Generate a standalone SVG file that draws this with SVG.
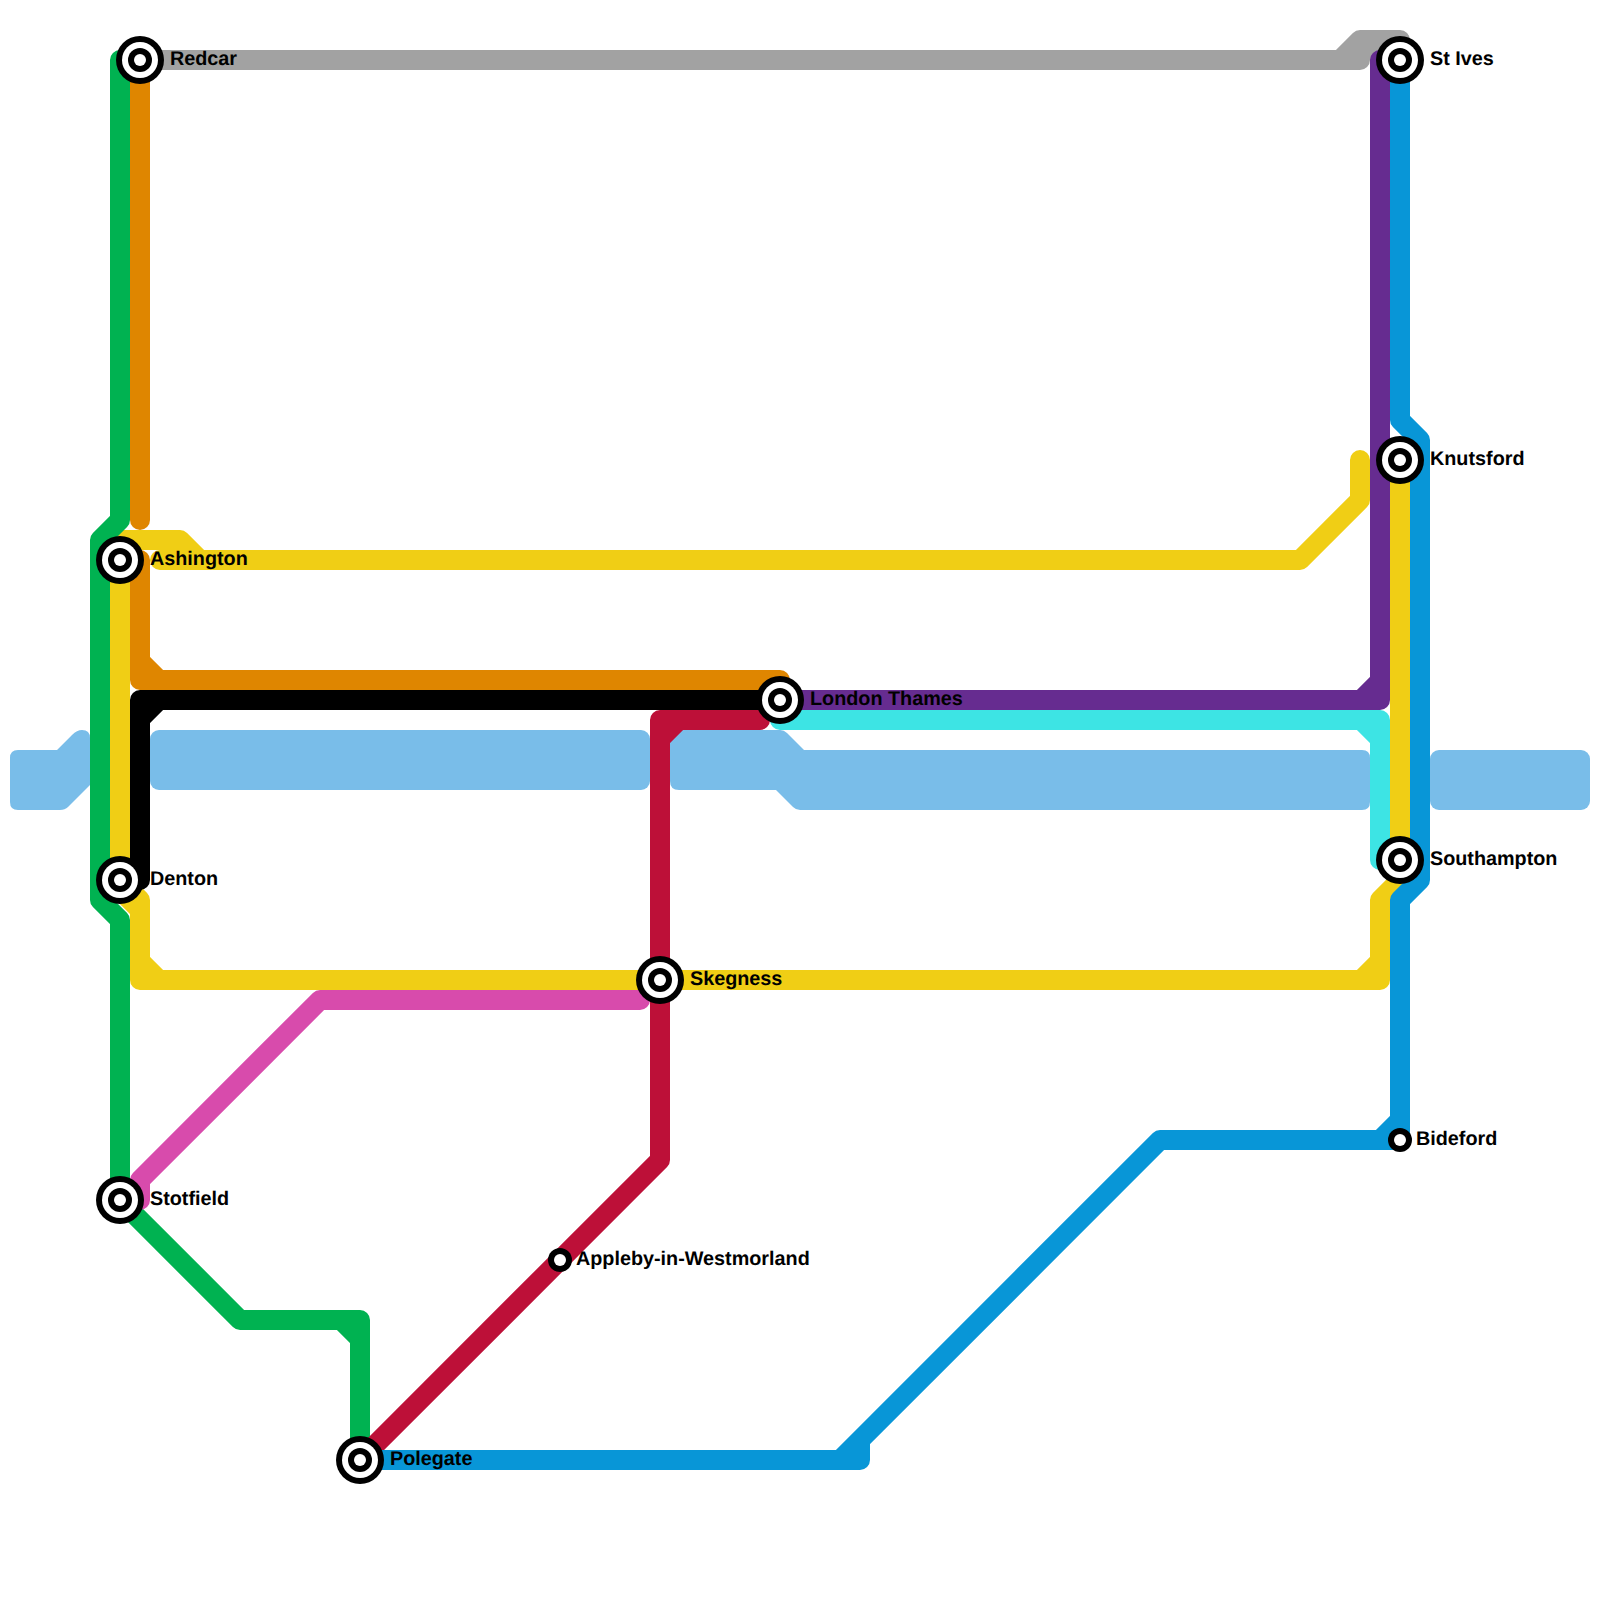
<svg xmlns="http://www.w3.org/2000/svg" width="1600" height="1600" viewBox="0 0 1600 1600">
<style>
.w{fill:#79BDE9;stroke:none}
.l{fill:none;stroke-width:20;stroke-linecap:round;stroke-linejoin:round}
.t{font-family:"Liberation Sans",Arial,sans-serif;font-weight:700;font-size:19.8px;fill:#000;text-rendering:geometricPrecision}
.k{fill:#000}.o{fill:#fff}
</style>
<defs>
<g id="ic"><circle r="24" class="k"/><circle r="18" class="o"/><circle r="12" class="k"/><circle r="6" class="o"/></g>
<g id="st"><circle r="12" class="k"/><circle r="6" class="o"/></g>
</defs>
<rect width="1600" height="1600" fill="#fff"/>
<g id="water">
<path class="w" d="M18 750H57L72 735Q77 730 82 730Q90 730 90 738V785L68 807Q65 810 60 810H18Q10 810 10 802V758Q10 750 18 750Z"/>
<rect class="w" x="150" y="730" width="500" height="60" rx="9"/>
<path class="w" d="M679 730H780Q784 730 787 733L804 750H1362Q1370 750 1370 758V802Q1370 810 1362 810H800Q796 810 793 807L776 790H679Q670 790 670 781V739Q670 730 679 730Z"/>
<rect class="w" x="1430" y="750" width="160" height="60" rx="9"/>
</g>
<g id="connectors">
<path class="l" stroke="#A2A2A2" d="M140 60H1360V40M1340 60L1360 40H1400V60M1370 50H1390"/>
<path class="l" stroke="#F0CE15" d="M120 880V540H180L200 560M160 560H1300L1360 500V460"/>
<path class="l" stroke="#F0CE15" d="M120 880L140 900V980H1380V900L1400 880M120 890L140 910M140 961L159 980M1361 980L1380 961"/>
<path class="l" stroke="#F0CE15" d="M1400 460V880"/>
<path class="l" stroke="#00B251" d="M120 60V520L100 540V900L120 920V1200L240 1320H360V1460M341 1320L360 1339"/>
<path class="l" stroke="#DF8600" d="M140 60V520"/>
<path class="l" stroke="#DF8600" d="M140 560V680H780V700M140 661L159 680"/>
<path class="l" stroke="#3DE4E4" d="M780 720H1380V860M1361 720L1380 739"/>
<path class="l" stroke="#662C90" d="M1380 60V700H780M1361 700L1380 681"/>
<path class="l" stroke="#000" d="M780 700H140V880M140 719L159 700"/>
<path class="l" stroke="#BD1038" d="M760 720H660V1160L360 1460M660 739L679 720"/>
<path class="l" stroke="#D84BAC" d="M640 1000H320L140 1180V1200"/>
<path class="l" stroke="#0896D7" d="M1400 60V420L1420 440V880L1400 900V1140H1160L840 1460M1400 1120L1380 1140M360 1460H860V1440"/>
</g>
<g id="redcar"><use href="#ic" x="140" y="60"/><text class="t" x="170" y="65">Redcar</text></g>
<g id="st-ives"><use href="#ic" x="1400" y="60"/><text class="t" x="1430" y="65">St Ives</text></g>
<g id="knutsford"><use href="#ic" x="1400" y="460"/><text class="t" x="1430" y="465">Knutsford</text></g>
<g id="ashington"><use href="#ic" x="120" y="560"/><text class="t" x="150" y="565">Ashington</text></g>
<g id="london-thames"><use href="#ic" x="780" y="700"/><text class="t" x="810" y="705">London Thames</text></g>
<g id="southampton"><use href="#ic" x="1400" y="860"/><text class="t" x="1430" y="865">Southampton</text></g>
<g id="denton"><use href="#ic" x="120" y="880"/><text class="t" x="150" y="885">Denton</text></g>
<g id="skegness"><use href="#ic" x="660" y="980"/><text class="t" x="690" y="985">Skegness</text></g>
<g id="bideford"><use href="#st" x="1400" y="1140"/><text class="t" x="1416" y="1145">Bideford</text></g>
<g id="stotfield"><use href="#ic" x="120" y="1200"/><text class="t" x="150" y="1205">Stotfield</text></g>
<g id="appleby"><use href="#st" x="560" y="1260"/><text class="t" x="576" y="1265">Appleby-in-Westmorland</text></g>
<g id="polegate"><use href="#ic" x="360" y="1460"/><text class="t" x="390" y="1465">Polegate</text></g>
</svg>
